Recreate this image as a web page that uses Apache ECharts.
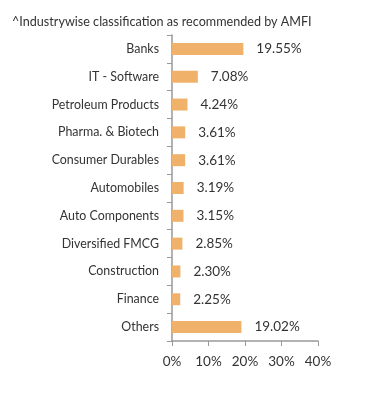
<!DOCTYPE html>
<html><head><meta charset="utf-8">
<script src="https://cdn.jsdelivr.net/npm/echarts@6/dist/echarts.min.js"></script>
<style>html,body{margin:0;padding:0;background:#fff}#c{width:391px;height:395px}</style>
</head><body><div id="c"></div>
<script>
const categories = ["Banks","IT - Software","Petroleum Products","Pharma. & Biotech","Consumer Durables","Automobiles","Auto Components","Diversified FMCG","Construction","Finance","Others"];
const values = [19.55,7.08,4.24,3.61,3.61,3.19,3.15,2.85,2.30,2.25,19.02];
const xTicks = [0,10,20,30,40];
const title = "^Industrywise classification as recommended by AMFI";

const chart = echarts.init(document.getElementById('c'), null, {renderer:'canvas'});
chart.setOption({
  animation:false,
  textStyle:{fontFamily:'Lato'},
  title:{text:title,left:7,top:10,textStyle:{fontSize:12.6,fontWeight:'normal',color:'#333',fontFamily:'Lato'}},
  grid:{left:172,right:73,top:35,bottom:54},
  xAxis:{type:'value',min:xTicks[0],max:xTicks[xTicks.length-1],interval:xTicks[1]-xTicks[0],
    axisLine:{show:true,lineStyle:{color:'#999',width:1.5}},
    axisTick:{show:true,length:5,lineStyle:{color:'#999'}},
    splitLine:{show:false},
    axisLabel:{formatter:v=>v+'%',color:'#333',fontSize:13.5,margin:14,fontFamily:'Lato'}},
  yAxis:{type:'category',inverse:true,data:categories,
    axisLine:{show:true,lineStyle:{color:'#999',width:1.5}},
    axisTick:{show:true,length:5,lineStyle:{color:'#999'}},
    axisLabel:{color:'#333',fontSize:12.4,margin:13,fontFamily:'Lato'}},
  series:[{type:'bar',data:values,barWidth:12,
    itemStyle:{color:'#f0b26b'},
    label:{show:true,position:'right',distance:13,color:'#333',fontSize:13.5,fontFamily:'Lato',
      formatter:p=>p.value.toFixed(2)+'%'}}]
});
</script></body></html>
